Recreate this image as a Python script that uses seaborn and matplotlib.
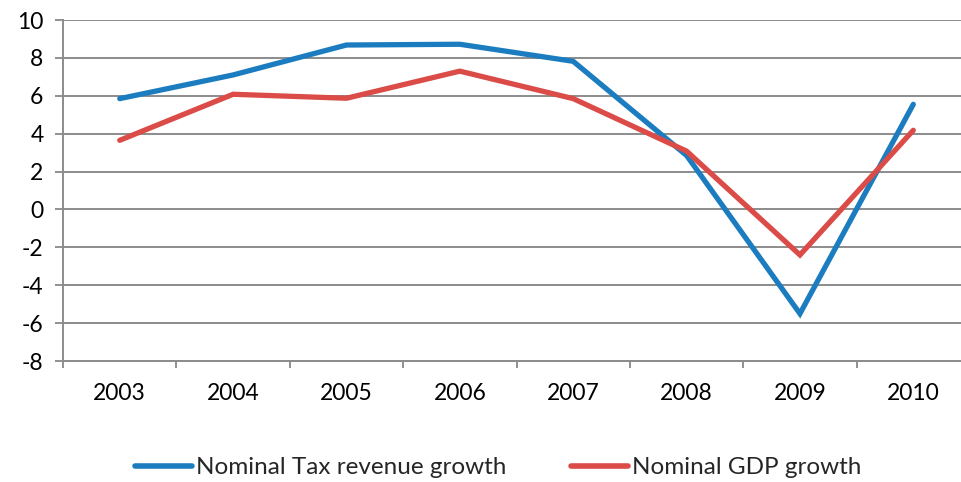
import matplotlib
matplotlib.use("Agg")
import matplotlib.pyplot as plt
import seaborn as sns
import pandas as pd
import numpy as np

years = ["2003", "2004", "2005", "2006", "2007", "2008", "2009", "2010"]
tax_growth = [5.85, 7.1, 8.68, 8.72, 7.82, 2.85, -5.5, 5.55]
gdp_growth = [3.65, 6.08, 5.87, 7.3, 5.85, 3.08, -2.4, 4.18]
series_names = ["Nominal Tax revenue growth", "Nominal GDP growth"]
yticks = [-8, -6, -4, -2, 0, 2, 4, 6, 8, 10]

sns.set_theme(style="white")
plt.rcParams['font.family'] = ['Lato', 'DejaVu Sans']

df = pd.DataFrame({
    "pos": list(range(len(years))) * 2,
    "value": tax_growth + gdp_growth,
    "series": [series_names[0]] * len(years) + [series_names[1]] * len(years),
})

fig = plt.figure(figsize=(9.61, 4.82), dpi=100)
ax = fig.add_axes([0.0656, 0.251, 0.9344, 0.7075])

palette = {series_names[0]: "#1B7DC0", series_names[1]: "#DB4B48"}
sns.lineplot(data=df, x="pos", y="value", hue="series", palette=palette,
             linewidth=3.8, ax=ax, legend=True, solid_capstyle="round",
             solid_joinstyle="miter")

n = len(years)
ax.set_yticks(yticks)
ax.set_yticklabels([str(t) for t in yticks], fontsize=16.5, color="black")
ax.set_xticks(np.arange(n))
ax.set_xticklabels(years, fontsize=16.5, color="black")
ax.set_xticks(np.arange(-0.5, n - 1, 1.0), minor=True)
ax.set_xlim(-0.5, n - 0.5 - 9 / 113.5)
ax.set_ylim(-8, 10)
ax.tick_params(axis="x", which="major", length=0, pad=16)
ax.tick_params(axis="x", which="minor", length=5, width=1.3, color="#888888", direction="out", bottom=True)
ax.tick_params(axis="y", length=6, width=1.3, color="#888888", direction="out", left=True, pad=8)

ax.grid(axis="y", color="#8C8C8C", linewidth=1.4)
ax.grid(axis="x", visible=False)
ax.set_axisbelow(True)
for s in ["top", "right"]:
    ax.spines[s].set_visible(False)
ax.spines["left"].set_color("#8C8C8C")
ax.spines["left"].set_linewidth(1.4)
ax.spines["bottom"].set_color("#8C8C8C")
ax.spines["bottom"].set_linewidth(1.4)
ax.set_xlabel("")
ax.set_ylabel("")

handles, labels = ax.get_legend_handles_labels()
ax.get_legend().remove()
leg = fig.legend(handles, labels, loc="center", bbox_to_anchor=(0.518, 0.030),
                 bbox_transform=fig.transFigure,
                 ncol=2, frameon=False, fontsize=17.5, handlelength=2.35, handletextpad=0.16,
                 columnspacing=2.65, borderpad=0.2)
for line in leg.get_lines():
    line.set_linewidth(4)
    line.set_solid_capstyle("round")

fig.savefig("out.png", dpi=100)
